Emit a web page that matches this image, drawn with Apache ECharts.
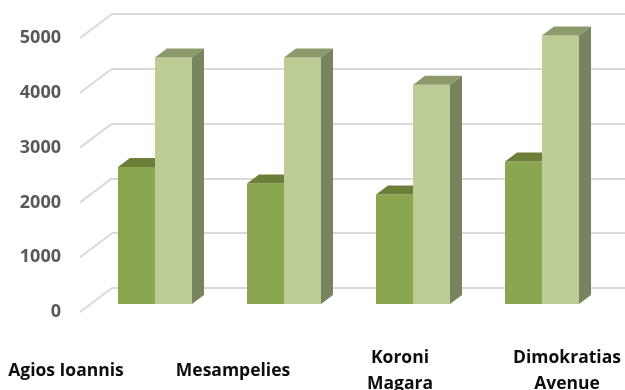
<!DOCTYPE html>
<html>
<head>
<meta charset="utf-8">
<script src="https://cdn.jsdelivr.net/npm/echarts@6/dist/echarts.min.js"></script>
<style>
  html, body { margin: 0; padding: 0; background: #fff; }
  #chart { width: 625px; height: 390px; }
</style>
</head>
<body>
<div id="chart"></div>
<script>
// data
var categories = ['Agios Ioannis', 'Mesampelies', 'Koroni\nMagara', 'Dimokratias\nAvenue'];
var seriesA = [2500, 2200, 2000, 2600];
var seriesB = [4500, 4500, 4000, 4900];
var yTicks = [0, 1000, 2000, 3000, 4000, 5000];

var myChart = echarts.init(document.getElementById('chart'));

var BAR_W = 37, DX = 12, DY = 9;

// draws one 3D-looking bar: front face, top, right side
function makeBar(offset, front, top, side) {
    return function (params, api) {
        var c = api.coord([api.value(0), api.value(1)]);
        var b = api.coord([api.value(0), 0]);
        var x0 = c[0] + offset, x1 = x0 + BAR_W, yt = c[1], yb = b[1];
        return {
            type: 'group',
            children: [
                { type: 'rect', shape: { x: x0, y: yt, width: BAR_W, height: yb - yt }, style: { fill: front } },
                { type: 'polygon', shape: { points: [[x0, yt], [x1, yt], [x1 + DX, yt - DY], [x0 + DX, yt - DY]] }, style: { fill: top } },
                { type: 'polygon', shape: { points: [[x1, yt], [x1 + DX, yt - DY], [x1 + DX, yb - DY], [x1, yb]] }, style: { fill: side } }
            ]
        };
    };
}

var hidden = { show: false };
var gridColor = '#d9d9d9';

var option = {
    animation: false,
    grid: [
        { left: 112, right: 0, top: 14, height: 274, outerBoundsMode: 'none' },     // back wall
        { left: 80, width: 32, top: 38, height: 274, outerBoundsMode: 'none' },      // front edge (labels)
        { left: 90.5, width: 516, top: 30, height: 274, outerBoundsMode: 'none' },   // bars
        { left: -17.5, width: 668, top: 300, height: 60, outerBoundsMode: 'none' }   // category labels
    ],
    xAxis: [
        { gridIndex: 0, type: 'category', data: categories, show: false },
        { gridIndex: 1, type: 'value', min: 0, max: 1, show: false },
        { gridIndex: 2, type: 'category', data: categories, show: false },
        {
            gridIndex: 3, type: 'category', data: categories,
            axisLine: hidden, axisTick: hidden,
            axisLabel: {
                interval: 0, margin: 11, verticalAlign: 'middle', lineHeight: 26,
                fontFamily: 'Open Sans', fontWeight: 'bold', fontSize: 17.5, color: '#0d0d0d'
            }
        }
    ],
    yAxis: [
        {
            gridIndex: 0, type: 'value', min: 0, max: 5000, interval: 1000,
            axisLine: hidden, axisTick: hidden, axisLabel: hidden,
            splitLine: { lineStyle: { color: gridColor, width: 2 } }
        },
        {
            gridIndex: 1, type: 'value', min: 0, max: 5000, interval: 1000,
            axisLine: hidden, axisTick: hidden, splitLine: hidden,
            axisLabel: {
                margin: 19, fontFamily: 'Open Sans', fontWeight: 'bold', fontSize: 18, color: '#595959',
                formatter: function (v) { return String(v); }
            }
        },
        { gridIndex: 2, type: 'value', min: 0, max: 5000, show: false },
        { gridIndex: 3, type: 'value', show: false }
    ],
    series: [
        {
            // side-wall diagonals from the front edge back to the wall
            type: 'custom', xAxisIndex: 1, yAxisIndex: 1,
            data: yTicks.map(function (v) { return [0, v]; }),
            renderItem: function (params, api) {
                var p = api.coord([0, api.value(1)]);
                return {
                    type: 'line',
                    shape: { x1: p[0], y1: p[1], x2: p[0] + 32, y2: p[1] - 24 },
                    style: { stroke: gridColor, lineWidth: 2 }
                };
            }
        },
        {
            type: 'custom', xAxisIndex: 2, yAxisIndex: 2,
            data: seriesA.map(function (v, i) { return [i, v]; }),
            renderItem: makeBar(-BAR_W, '#8aa64f', '#6b7f39', '#6e8440')
        },
        {
            type: 'custom', xAxisIndex: 2, yAxisIndex: 2,
            data: seriesB.map(function (v, i) { return [i, v]; }),
            renderItem: makeBar(0, '#bccc95', '#8c9a6c', '#77845d')
        },
        { type: 'line', xAxisIndex: 3, yAxisIndex: 3, data: [] }
    ]
};

myChart.setOption(option);
</script>
</body>
</html>
